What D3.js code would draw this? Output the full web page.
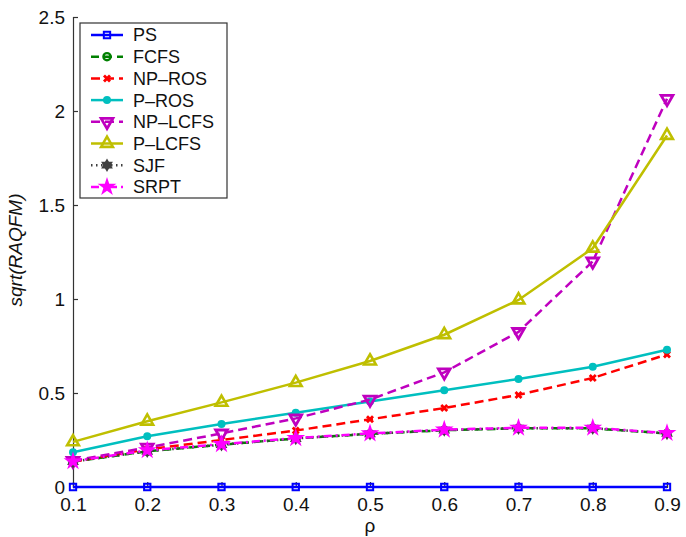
<!DOCTYPE html>
<html>
<head>
<meta charset="utf-8">
<script src="https://cdn.jsdelivr.net/npm/d3@7"></script>
<style>
  body { margin: 0; background: #fff; }
  text { font-family: "Liberation Sans", Arial, sans-serif; }
</style>
</head>
<body>
<div id="chart"></div>
<script>
const rho = [0.1, 0.2, 0.3, 0.4, 0.5, 0.6, 0.7, 0.8, 0.9];
const ps = [0, 0, 0, 0, 0, 0, 0, 0, 0];
const fcfs = [0.135, 0.19, 0.225, 0.258, 0.283, 0.302, 0.312, 0.312, 0.285];
const npRos = [0.135, 0.2, 0.25, 0.3, 0.36, 0.42, 0.49, 0.58, 0.705];
const pRos = [0.185, 0.27, 0.335, 0.395, 0.455, 0.515, 0.575, 0.64, 0.73];
const npLcfs = [0.14, 0.21, 0.285, 0.365, 0.465, 0.61, 0.825, 1.2, 2.065];
const pLcfs = [0.24, 0.35, 0.45, 0.555, 0.67, 0.81, 0.995, 1.27, 1.87];
const sjf = [0.135, 0.19, 0.225, 0.258, 0.283, 0.303, 0.313, 0.313, 0.285];
const srpt = [0.137, 0.195, 0.228, 0.26, 0.285, 0.305, 0.315, 0.315, 0.287];
const yTicks = [0, 0.5, 1, 1.5, 2, 2.5];
const xTicks = rho;

const series = [
  { name: "PS", values: ps, color: "#0000ff", dash: null, marker: "square" },
  { name: "FCFS", values: fcfs, color: "#008000", dash: "8,5", marker: "circle" },
  { name: "NP\u2013ROS", values: npRos, color: "#ff0000", dash: "9,5", marker: "x" },
  { name: "P\u2013ROS", values: pRos, color: "#00bfbf", dash: null, marker: "dot" },
  { name: "NP\u2013LCFS", values: npLcfs, color: "#bf00bf", dash: "9,5", marker: "tridown" },
  { name: "P\u2013LCFS", values: pLcfs, color: "#bfbf00", dash: null, marker: "triup" },
  { name: "SJF", values: sjf, color: "#404040", dash: "1.5,3.5", marker: "hexagram" },
  { name: "SRPT", values: srpt, color: "#ff00ff", dash: "8,4,2,4", marker: "star" }
];

const W = 686, H = 537;
const margin = { top: 17, right: 16, bottom: 50, left: 73 };
const width = W - margin.left - margin.right;
const height = H - margin.top - margin.bottom;

const svg = d3.select("#chart").append("svg")
  .attr("width", W).attr("height", H)
  .append("g")
  .attr("transform", `translate(${margin.left},${margin.top})`);

const x = d3.scaleLinear().domain([0.1, 0.9]).range([0, width - 3]);
const y = d3.scaleLinear().domain([0, 2.5]).range([height, 0]);

// axes
const yAxis = svg.append("g")
  .call(d3.axisLeft(y).tickValues(yTicks).tickSize(-5).tickPadding(8).tickFormat(d3.format("~g")));
const xAxis = svg.append("g")
  .attr("transform", `translate(0,${height})`)
  .call(d3.axisBottom(x).tickValues(xTicks).tickSize(-5).tickPadding(11).tickFormat(d3.format(".1f")));
[yAxis, xAxis].forEach(a => {
  a.select(".domain").attr("stroke", "#333").attr("stroke-width", 1.2);
  a.selectAll(".tick line").attr("stroke", "#333").attr("stroke-width", 1.2);
  a.selectAll("text").style("font-size", "19px").attr("fill", "#111");
});

function sym(type, size) {
  return d3.symbol(type, size)();
}

function drawMarker(g, type, color, cx, cy) {
  const m = g.append("g").attr("transform", `translate(${cx},${cy})`);
  switch (type) {
    case "square":
      m.append("path").attr("d", sym(d3.symbolSquare, 40))
        .attr("fill", "none").attr("stroke", color).attr("stroke-width", 2);
      break;
    case "circle":
      m.append("path").attr("d", sym(d3.symbolCircle, 40))
        .attr("fill", "none").attr("stroke", color).attr("stroke-width", 2.4);
      break;
    case "x":
      m.append("path").attr("d", sym(d3.symbolCross, 40)).attr("transform", "rotate(45)")
        .attr("fill", color);
      break;
    case "dot":
      m.append("path").attr("d", sym(d3.symbolCircle, 50)).attr("fill", color);
      break;
    case "triup":
      m.append("path").attr("d", sym(d3.symbolTriangle, 60))
        .attr("fill", "none").attr("stroke", color).attr("stroke-width", 2.6);
      break;
    case "tridown":
      m.append("path").attr("d", sym(d3.symbolTriangle, 60)).attr("transform", "rotate(180)")
        .attr("fill", "none").attr("stroke", color).attr("stroke-width", 2.8);
      break;
    case "hexagram":
      m.append("path").attr("d", sym(d3.symbolTriangle, 60)).attr("fill", color);
      m.append("path").attr("d", sym(d3.symbolTriangle, 60)).attr("transform", "rotate(180)").attr("fill", color);
      break;
    case "star":
      m.append("path").attr("d", sym(d3.symbolStar, 110)).attr("fill", color);
      break;
  }
}

const line = d3.line().x((d, i) => x(rho[i])).y(d => y(d));

series.forEach(s => {
  svg.append("path")
    .datum(s.values)
    .attr("d", line)
    .attr("fill", "none")
    .attr("stroke", s.color)
    .attr("stroke-width", 2.5)
    .attr("stroke-dasharray", s.dash);
  const g = svg.append("g");
  s.values.forEach((v, i) => drawMarker(g, s.marker, s.color, x(rho[i]), y(v)));
});

// legend
const lg = svg.append("g").attr("transform", `translate(${80 - margin.left},${23 - margin.top})`);
lg.append("rect").attr("width", 147).attr("height", 175)
  .attr("fill", "#fff").attr("stroke", "#333").attr("stroke-width", 1.2);
series.forEach((s, i) => {
  const cy = 12 + i * 21.7;
  lg.append("line").attr("x1", 11).attr("x2", 43).attr("y1", cy).attr("y2", cy)
    .attr("stroke", s.color).attr("stroke-width", 2.5).attr("stroke-dasharray", s.dash);
  drawMarker(lg, s.marker, s.color, 27, cy);
  lg.append("text").attr("x", 53).attr("y", cy).attr("dy", "0.36em")
    .style("font-size", "18px").attr("fill", "#111").text(s.name);
});

// axis labels
svg.append("text")
  .attr("transform", `translate(${22 - margin.left},${250 - margin.top}) rotate(-90)`)
  .attr("text-anchor", "middle")
  .style("font-size", "19px").style("font-style", "italic").attr("fill", "#111")
  .text("sqrt(RAQFM)");
svg.append("text")
  .attr("x", x(0.5)).attr("y", height + 45)
  .attr("text-anchor", "middle")
  .style("font-size", "19px").attr("fill", "#111")
  .text("\u03c1");
</script>
</body>
</html>
